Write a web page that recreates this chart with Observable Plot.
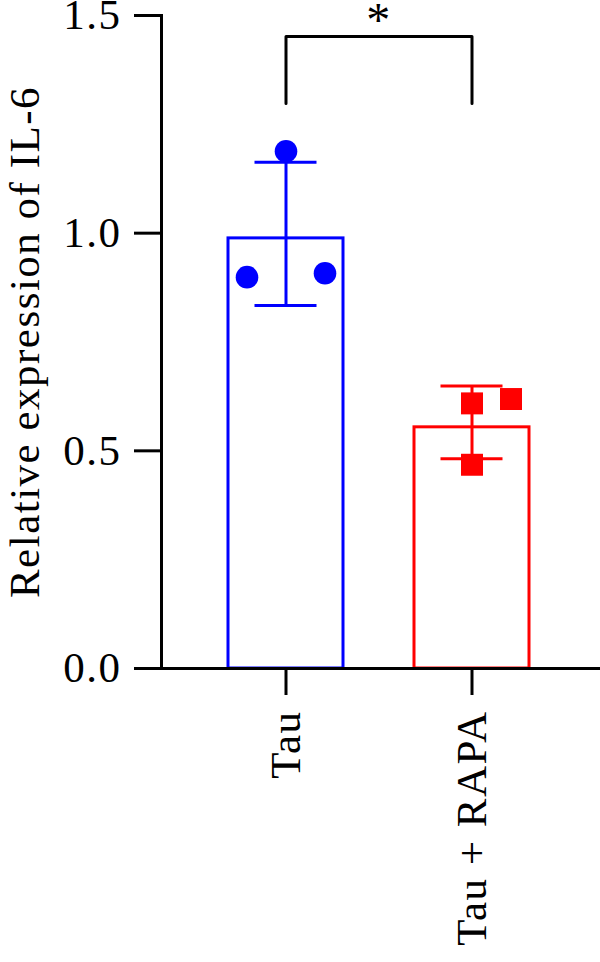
<!DOCTYPE html>
<html>
<head>
<meta charset="utf-8">
<script src="https://cdn.jsdelivr.net/npm/d3@7"></script>
<script src="https://cdn.jsdelivr.net/npm/@observablehq/plot@0.6"></script>
<style>
  html, body { margin: 0; padding: 0; background: #fff; }
  #chart svg { display: block; }
</style>
</head>
<body>
<div id="chart"></div>
<script>
// ---- data ----
const groups = ["Tau", "Tau + RAPA"];
const groupColors = ["#0000ff", "#ff0000"];
const groupSymbols = ["circle", "square"];
const means = [0.988, 0.554];
const errLow = [0.834, 0.482];
const errHigh = [1.163, 0.649];
// individual replicates
const pointGroup = ["Tau", "Tau", "Tau", "Tau + RAPA", "Tau + RAPA", "Tau + RAPA"];
const pointValue = [0.899, 1.188, 0.908, 0.609, 0.619, 0.468];
const pointSlot = [-1, 0, 1, 0, 1, 0];
const yTicks = [0, 0.5, 1.0, 1.5];
const yLabel = "Relative expression of IL-6";
const sigLabel = "*";
const bracketTop = 1.452;
const bracketBottom = 1.298;

// ---- build ----
const bars = groups.map((g, i) => ({group: g, mean: means[i], lo: errLow[i], hi: errHigh[i]}));
const points = pointValue.map((v, i) => ({group: pointGroup[i], value: v, slot: pointSlot[i]}));
const bracket = [
  {group: groups[0], y: bracketBottom},
  {group: groups[0], y: bracketTop},
  {group: groups[1], y: bracketTop},
  {group: groups[1], y: bracketBottom}
];

const font = "'Liberation Serif', 'DejaVu Serif', serif";
const slotOffset = 39;
const fs = 43;

const dotMarks = [-1, 0, 1].map(s => Plot.dot(points.filter(d => d.slot === s), {
  x: "group", y: "value",
  symbol: "group", fill: "group", stroke: "none",
  r: d => d.group === groups[0] ? 11.3 : 12.4,
  dx: s * slotOffset
}));

const chart = Plot.plot({
  width: 600,
  height: 962,
  marginLeft: 161,
  marginRight: 0,
  marginTop: 15,
  marginBottom: 294,
  style: {fontFamily: font, fontSize: fs + "px", letterSpacing: "1.5px", color: "#000", background: "#fff", overflow: "visible"},
  x: {domain: groups, padding: 0.382, paddingOuter: 0.37, align: 0.487, label: null},
  y: {domain: [0, 1.5], label: null},
  color: {domain: groups, range: groupColors},
  symbol: {domain: groups, range: groupSymbols},
  r: {type: "identity"},
  marks: [
    Plot.barY(bars, {x: "group", y: "mean", fill: "white", stroke: "group", strokeWidth: 3}),
    Plot.ruleX(bars, {x: "group", y1: "lo", y2: "hi", stroke: "group", strokeWidth: 3}),
    Plot.tickY(bars, {x: "group", y: "lo", stroke: "group", strokeWidth: 3, insetLeft: 26.5, insetRight: 26.5}),
    Plot.tickY(bars, {x: "group", y: "hi", stroke: "group", strokeWidth: 3, insetLeft: 26.5, insetRight: 26.5}),
    ...dotMarks,
    Plot.line(bracket, {x: "group", y: "y", stroke: "#000", strokeWidth: 3}),
    Plot.text([sigLabel], {y: [bracketTop], dy: -34, dx: -2, fontSize: 48, fill: "#000", lineAnchor: "top"}),
    Plot.frame({anchor: "left", stroke: "#000", strokeWidth: 3}),
    Plot.frame({anchor: "bottom", stroke: "#000", strokeWidth: 3}),
    Plot.axisY({ticks: yTicks, tickFormat: d3.format(".1f"), tickSize: 27, tickPadding: 13, strokeWidth: 3, label: null, fontSize: fs}),
    Plot.axisX({tickSize: 27, tickPadding: 15, tickRotate: -90, strokeWidth: 3, label: null, fontSize: fs}),
    Plot.text([yLabel], {frameAnchor: "left", rotate: -90, dx: -136, fontSize: fs, fill: "#000", textAnchor: "middle", lineAnchor: "middle"})
  ]
});
document.getElementById("chart").appendChild(chart);
</script>
</body>
</html>
